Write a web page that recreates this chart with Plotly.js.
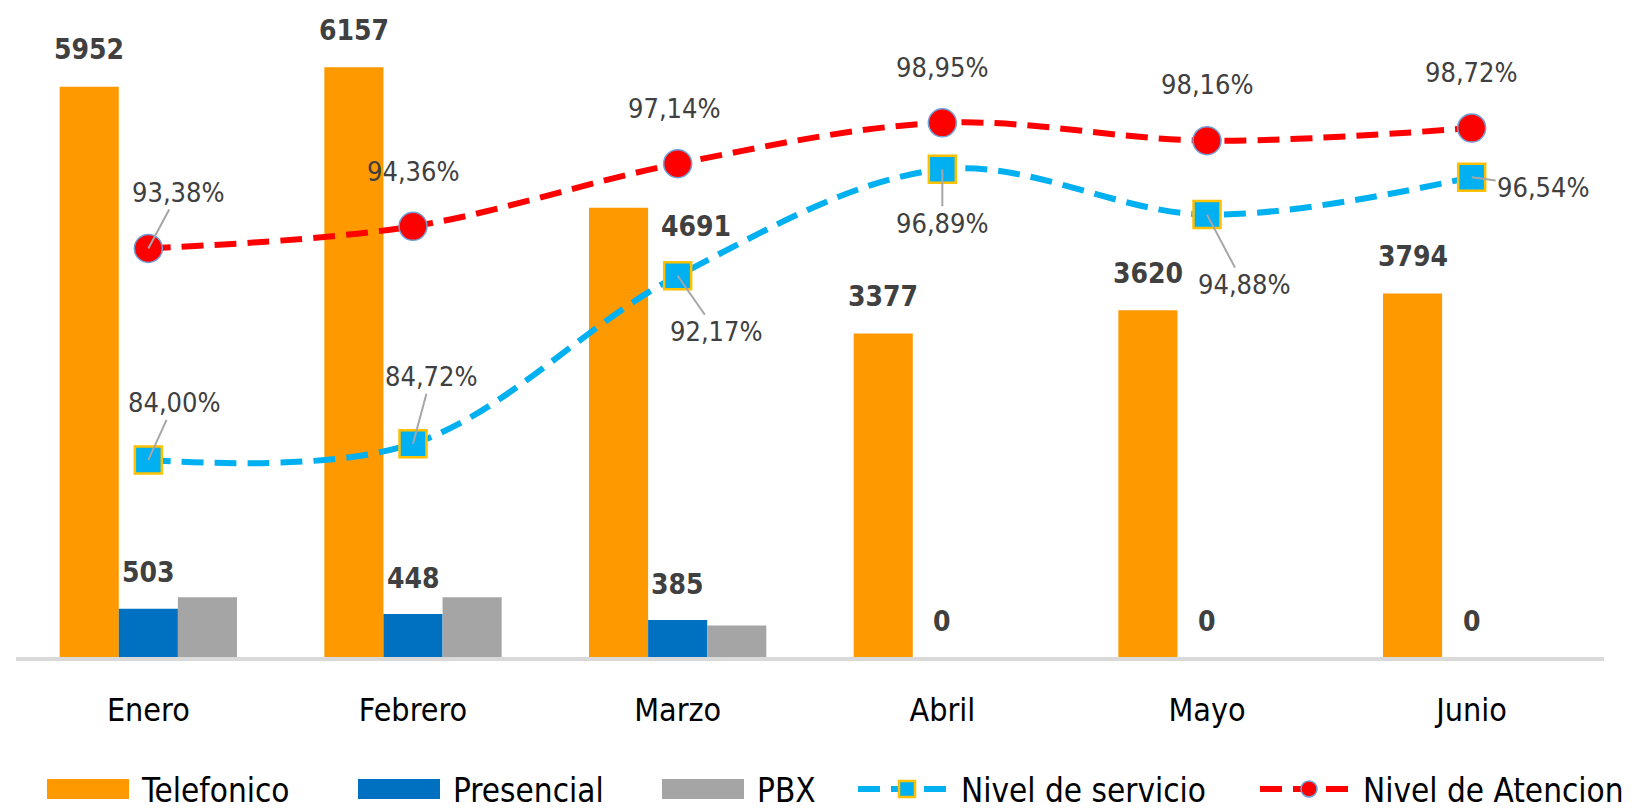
<!DOCTYPE html>
<html>
<head>
<meta charset="utf-8">
<script src="https://cdn.plot.ly/plotly-3.0.1.min.js"></script>
<style>html,body{margin:0;padding:0;background:#fff;}#chart{width:1640px;height:811px;}</style>
</head>
<body>
<div id="chart"></div>
<script>
// ---- data ----
const months = ['Enero', 'Febrero', 'Marzo', 'Abril', 'Mayo', 'Junio'];
const telefonico = [5952, 6157, 4691, 3377, 3620, 3794];
const presencial = [503, 448, 385, 0, 0, 0];
const pbx = [625, 625, 330, 0, 0, 0];
const nivelServicio = [84.00, 84.72, 92.17, 96.89, 94.88, 96.54];
const nivelAtencion = [93.38, 94.36, 97.14, 98.95, 98.16, 98.72];

// ---- label placement (pixels) ----
const telShift = [[0, 37], [0, 37], [77, -19], [0, 37], [0, 37], [0, 37]];
const presShift = [[0, 36], [0, 36], [0, 36], [0, 36], [0, 36], [0, 36]];
const servOffset = [[26, -57, true], [18, -67, true], [39, 56, true], [0, 54, true], [37, 70, true], [72, 10, true]];
const atenOffset = [[30, -56, true], [0, -55, false], [-3, -55, false], [0, -55, false], [0, -56, false], [0, -56, false]];

const FONT = '"DejaVu Sans Condensed", "Liberation Sans Narrow", "DejaVu Sans", sans-serif';
const W = 1640, H = 811;
const margin = {l: 16, r: 36, t: 20, b: 154, pad: 0};
const bargap = 0.33;
const plotW = W - margin.l - margin.r;
const barW = plotW / months.length * (1 - bargap) / 3;

const fmtPct = v => v.toFixed(2).replace('.', ',') + '%';

const traces = [
  {type: 'bar', name: 'Telefonico', legend: 'legend', x: months, y: telefonico, marker: {color: '#FF9900'}},
  {type: 'bar', name: 'Presencial', legend: 'legend2', x: months, y: presencial, marker: {color: '#0070C0'}},
  {type: 'bar', name: 'PBX', legend: 'legend3', x: months, y: pbx, marker: {color: '#A5A5A5'}},
  {type: 'scatter', mode: 'lines+markers', name: 'Nivel de servicio', legend: 'legend4', x: months, y: nivelServicio, yaxis: 'y2',
   line: {color: '#00B0F0', width: 6, dash: '22px,11px', shape: 'spline', smoothing: 1},
   marker: {symbol: 'square', size: 27, color: '#00B0F0', line: {color: '#FFC000', width: 2.5}}},
  {type: 'scatter', mode: 'lines+markers', name: 'Nivel de Atencion', legend: 'legend5', x: months, y: nivelAtencion, yaxis: 'y2',
   line: {color: '#FF0000', width: 6, dash: '22px,11px', shape: 'spline', smoothing: 1},
   marker: {symbol: 'circle', size: 28, color: '#FF0000', line: {color: '#6FA0D8', width: 1.5}}}
];

const annotations = [];
const barFont = {family: FONT, size: 28, color: '#404040', weight: 700};
const pctFont = {family: FONT, size: 27, color: '#404040'};
months.forEach((m, i) => {
  annotations.push({x: m, y: telefonico[i], xref: 'x', yref: 'y', text: String(telefonico[i]),
    showarrow: false, xanchor: 'center', yanchor: 'middle', xshift: -barW + telShift[i][0], yshift: telShift[i][1], font: barFont});
  annotations.push({x: m, y: presencial[i], xref: 'x', yref: 'y', text: String(presencial[i]),
    showarrow: false, xanchor: 'center', yanchor: 'middle', xshift: presShift[i][0], yshift: presShift[i][1], font: barFont});
  const so = servOffset[i];
  annotations.push({x: m, y: nivelServicio[i], xref: 'x', yref: 'y2', text: fmtPct(nivelServicio[i]),
    showarrow: true, arrowhead: 0, arrowwidth: 2, arrowcolor: so[2] ? '#A6A6A6' : 'rgba(0,0,0,0)', standoff: 0,
    ax: so[0], ay: so[1], font: pctFont});
  const ao = atenOffset[i];
  annotations.push({x: m, y: nivelAtencion[i], xref: 'x', yref: 'y2', text: fmtPct(nivelAtencion[i]),
    showarrow: true, arrowhead: 0, arrowwidth: 2, arrowcolor: ao[2] ? '#A6A6A6' : 'rgba(0,0,0,0)', standoff: 0,
    ax: ao[0], ay: ao[1], font: pctFont});
});

// legends: one per series, positioned in container coordinates
const legendBase = (xpx, iw) => ({
  orientation: 'h', xref: 'container', yref: 'container',
  x: xpx / W, xanchor: 'left', y: (H - 789) / H, yanchor: 'middle',
  font: {family: FONT, size: 33, color: '#000000'}, itemwidth: iw, bgcolor: 'rgba(0,0,0,0)', borderwidth: 0
});

const layout = {
  width: W, height: H, margin: margin,
  paper_bgcolor: '#FFFFFF', plot_bgcolor: '#FFFFFF',
  barmode: 'group', bargap: bargap, bargroupgap: 0,
  font: {family: FONT, color: '#000000'},
  showlegend: true,
  legend: legendBase(44, 88),
  legend2: legendBase(355, 88),
  legend3: legendBase(659, 88),
  legend4: legendBase(853, 98),
  legend5: legendBase(1255, 98),
  xaxis: {type: 'category', showline: true, linecolor: '#D9D9D9', linewidth: 4, showgrid: false, zeroline: false,
    ticks: '', ticklabelstandoff: 22, tickfont: {family: FONT, size: 32, color: '#000000'}, fixedrange: true, automargin: false},
  yaxis: {range: [0, 6650], visible: false, showgrid: false, zeroline: false, fixedrange: true},
  yaxis2: {range: [75.26, 103.51], overlaying: 'y', side: 'right', visible: false, showgrid: false, zeroline: false, fixedrange: true},
  annotations: annotations
};

function widenBarSwatches() {
  // widen the bar legend swatches to the wide Excel-style rectangles
  document.querySelectorAll('#chart .infolayer g.legendpoints path').forEach(p => {
    const d = (p.getAttribute('d') || '').replace(/\s/g, '');
    if (/^M6,6H-6V-6H6Z$/.test(d)) p.setAttribute('d', 'M36,10H-46V-10H36Z');
  });
}

Plotly.newPlot('chart', traces, layout, {displayModeBar: false, staticPlot: true}).then(() => {
  widenBarSwatches();
  requestAnimationFrame(widenBarSwatches);
  setTimeout(widenBarSwatches, 50);
});
</script>
</body>
</html>
